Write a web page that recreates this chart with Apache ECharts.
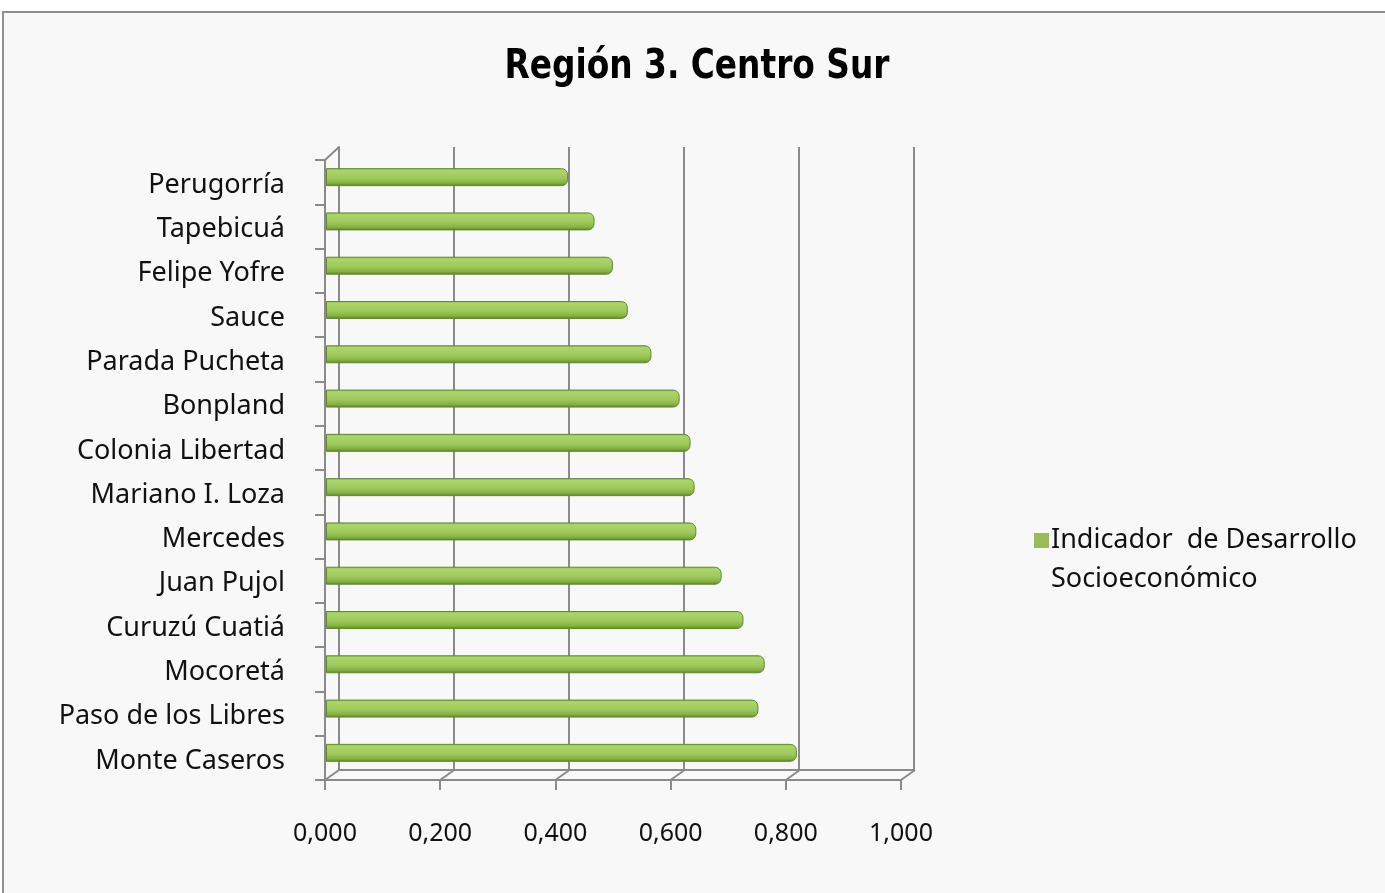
<!DOCTYPE html>
<html>
<head>
<meta charset="utf-8">
<script src="https://cdn.jsdelivr.net/npm/echarts@6/dist/echarts.min.js"></script>
<style>
  html, body { margin: 0; padding: 0; background: #ffffff; }
  #chart { width: 1385px; height: 893px; }
</style>
</head>
<body>
<div id="chart"></div>
<script>
// Región 3. Centro Sur — indicador de desarrollo socioeconómico

var categories = ['Perugorría', 'Tapebicuá', 'Felipe Yofre', 'Sauce', 'Parada Pucheta', 'Bonpland',
  'Colonia Libertad', 'Mariano I. Loza', 'Mercedes', 'Juan Pujol', 'Curuzú Cuatiá', 'Mocoretá',
  'Paso de los Libres', 'Monte Caseros'];
var values = [0.421, 0.467, 0.499, 0.525, 0.566, 0.615, 0.634, 0.641, 0.644, 0.688, 0.726, 0.763, 0.752, 0.819];
var xTicks = [0, 0.2, 0.4, 0.6, 0.8, 1.0];
var seriesName = 'Indicador  de Desarrollo';

var FONT = '"Noto Sans", "Open Sans", sans-serif';
var GRAY = '#8a8a8a';

var chart = echarts.init(document.getElementById('chart'), null, { renderer: 'canvas' });

function fmt(v) { return v.toFixed(3).replace('.', ','); }

chart.setOption({
  animation: false,
  graphic: [
    { type: 'rect', z: -10, silent: true, shape: { x: 3, y: 12, width: 1400, height: 900 },
      style: { fill: '#f8f8f8', stroke: '#8f8f8f', lineWidth: 2 } },
    // title, squeezed to look condensed
    { type: 'text', x: 697, y: 68, scaleX: 0.82, silent: true,
      style: { text: 'Región 3. Centro Sur', font: 'bold 40px "DejaVu Sans", sans-serif', fill: '#000',
        textAlign: 'center', textVerticalAlign: 'middle' } },
    { type: 'text', left: 1051, top: 566, style: { text: 'Socioeconómico', font: '27px ' + FONT, fill: '#111' } }
  ],
  legend: {
    left: 1029, top: 522, icon: 'rect', itemWidth: 15, itemHeight: 15, itemGap: 6,
    itemStyle: { color: '#9bbb59', borderWidth: 0 },
    textStyle: { fontFamily: FONT, fontSize: 27, color: '#111', padding: [0, 0, 0, -3] },
    data: [seriesName]
  },
  grid: [
    // front axes
    { left: 325, top: 160, width: 576, height: 620 },
    // back wall
    { left: 339, top: 147, width: 575, height: 623 },
    // bars
    { left: 326, top: 155, width: 575, height: 620 }
  ],
  xAxis: [
    { gridIndex: 0, type: 'value', min: 0, max: 1, interval: 0.2,
      axisLine: { show: true, lineStyle: { color: GRAY, width: 2 } },
      axisTick: { show: true, length: 10, lineStyle: { color: GRAY, width: 2 } },
      axisLabel: { margin: 41, fontFamily: FONT, fontSize: 25, color: '#111', formatter: fmt },
      splitLine: { show: false } },
    { gridIndex: 1, type: 'value', min: 0, max: 1, interval: 0.2,
      axisLine: { show: true, lineStyle: { color: GRAY, width: 2 } },
      axisTick: { show: false }, axisLabel: { show: false },
      splitLine: { show: true, lineStyle: { color: GRAY, width: 2 } } },
    { gridIndex: 2, type: 'value', min: 0, max: 1, show: false }
  ],
  yAxis: [
    { gridIndex: 0, type: 'category', inverse: true, data: categories,
      axisLine: { show: true, lineStyle: { color: GRAY, width: 2 } },
      axisTick: { show: true, length: 10, lineStyle: { color: GRAY, width: 2 } },
      axisLabel: { margin: 40, fontFamily: FONT, fontSize: 27, color: '#111',
        verticalAlign: 'top', lineHeight: 6 } },
    { gridIndex: 1, type: 'category', inverse: true, data: categories,
      axisLine: { show: true, lineStyle: { color: GRAY, width: 2 } },
      axisTick: { show: false }, axisLabel: { show: false }, splitLine: { show: false } },
    { gridIndex: 2, type: 'category', inverse: true, data: categories, show: false }
  ],
  series: [
    {
      name: seriesName,
      type: 'bar',
      xAxisIndex: 2, yAxisIndex: 2,
      data: values,
      barWidth: 18,
      itemStyle: {
        color: new echarts.graphic.LinearGradient(0, 0, 0, 1, [
          { offset: 0, color: '#86ad4c' },
          { offset: 0.12, color: '#acd56b' },
          { offset: 0.55, color: '#9ec95c' },
          { offset: 0.82, color: '#87b146' },
          { offset: 1, color: '#587f27' }
        ]),
        borderColor: '#648a2f', borderWidth: 1,
        borderRadius: [0, 6, 6, 0]
      }
    },
    {
      // 3D floor connectors between front ticks and back wall
      type: 'custom', xAxisIndex: 0, yAxisIndex: 0, silent: true,
      data: xTicks.map(function (v) { return [v]; }),
      renderItem: function (params, api) {
        var cs = params.coordSys;
        var x = api.coord([api.value(0), 0])[0];
        var y = cs.y + cs.height;
        var children = [{ type: 'line', shape: { x1: x, y1: y, x2: x + 14, y2: y - 10 },
          style: { stroke: GRAY, lineWidth: 2 } }];
        if (params.dataIndex === 0) {
          children.push({ type: 'line', shape: { x1: x, y1: cs.y, x2: x + 14, y2: cs.y - 13 },
            style: { stroke: GRAY, lineWidth: 2 } });
        }
        return { type: 'group', children: children };
      }
    }
  ]
});
</script>
</body>
</html>
